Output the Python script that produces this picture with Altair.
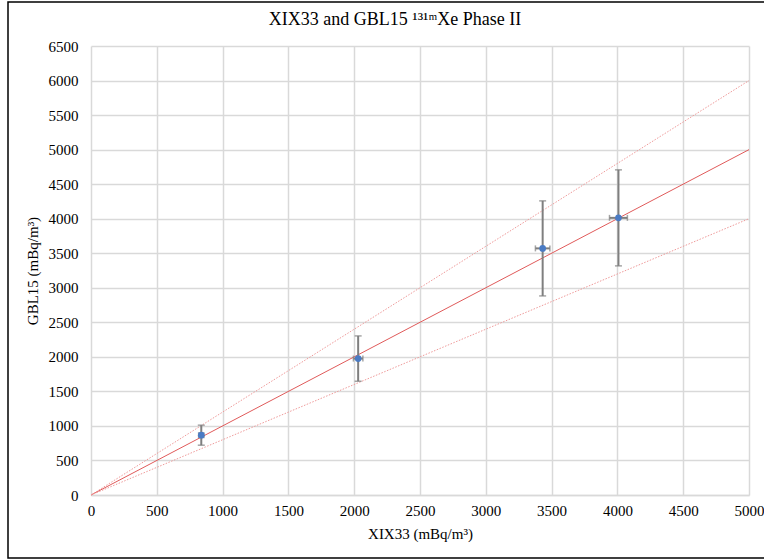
import altair as alt
import pandas as pd

# Measured concentrations (mBq/m3) with their uncertainties
xix33 = [838, 2030, 3432, 4008]
gbl15 = [866, 1975, 3570, 4012]
gbl15_err = [145, 328, 688, 695]
xix33_err = [20, 36, 55, 68]

# Reference lines: 1:1 and +/-20 %
ref_x = [0, 5000]
ref_slopes = [1.0, 1.2, 0.8]
ref_names = ["1:1", "+20%", "-20%"]

x_ticks = list(range(0, 5001, 500))
y_ticks = list(range(0, 6501, 500))

W, H = 658, 449
FONT = "Liberation Serif"

pts = pd.DataFrame({
    "x": xix33, "y": gbl15,
    "ylo": [y - e for y, e in zip(gbl15, gbl15_err)],
    "yhi": [y + e for y, e in zip(gbl15, gbl15_err)],
    "xlo": [x - e for x, e in zip(xix33, xix33_err)],
    "xhi": [x + e for x, e in zip(xix33, xix33_err)],
})

lines = pd.DataFrame(
    [{"x": x, "y": s * x, "k": n} for s, n in zip(ref_slopes, ref_names) for x in ref_x]
)

xs = alt.Scale(domain=[0, 5000], nice=False, zero=True)
ys = alt.Scale(domain=[0, 6500], nice=False, zero=True)

x_axis = alt.Axis(values=x_ticks, tickCount=len(x_ticks), title="XIX33 (mBq/m³)",
                  titlePadding=8, format="d", labelOverlap=False, labelFlush=False,
                  labelPadding=8)
y_axis = alt.Axis(values=y_ticks, tickCount=len(y_ticks), title="GBL15 (mBq/m³)",
                  titlePadding=8, format="d", labelOverlap=False, labelFlush=False,
                  labelPadding=13)


def X(field):
    return alt.X(field, type="quantitative", scale=xs, axis=x_axis)


def Y(field):
    return alt.Y(field, type="quantitative", scale=ys, axis=y_axis)


base_l = alt.Chart(lines)
solid = base_l.transform_filter("datum.k == '1:1'").mark_line(
    color="#e05a5a", strokeWidth=1
).encode(x=X("x"), y=Y("y"))
dotted = base_l.transform_filter("datum.k != '1:1'").mark_line(
    color="#ef9a9a", strokeWidth=1, strokeDash=[1.5, 1.5]
).encode(x=X("x"), y=Y("y"), detail="k:N")

base_p = alt.Chart(pts)
err_color = "#7f7f7f"
vbar = base_p.mark_rule(color=err_color, strokeWidth=2).encode(
    x=X("x"), y=Y("ylo"), y2="yhi:Q"
)
hbar = base_p.mark_rule(color=err_color, strokeWidth=2).encode(
    x=X("xlo"), x2="xhi:Q", y=Y("y")
)
vcap_hi = base_p.mark_tick(color=err_color, orient="horizontal", size=7, thickness=1.5).encode(
    x=X("x"), y=Y("yhi")
)
vcap_lo = base_p.mark_tick(color=err_color, orient="horizontal", size=7, thickness=1.5).encode(
    x=X("x"), y=Y("ylo")
)
hcap_lo = base_p.mark_tick(color=err_color, orient="vertical", size=6, thickness=1.5).encode(
    x=X("xlo"), y=Y("y")
)
hcap_hi = base_p.mark_tick(color=err_color, orient="vertical", size=6, thickness=1.5).encode(
    x=X("xhi"), y=Y("y")
)
dots = base_p.mark_circle(color="#4a7bc4", size=45, opacity=1).encode(
    x=X("x"), y=Y("y")
)

# Chart title, drawn as text above the plot
title = alt.Chart(pd.DataFrame({"t": ["XIX33 and GBL15 ¹³¹ᵐXe Phase II"]})).mark_text(
    font=FONT, fontSize=18, color="#000000", baseline="middle", align="center"
).encode(x=alt.value(304), y=alt.value(-26), text="t:N")

# Frame around the whole figure
frame = alt.Chart(pd.DataFrame({"a": [0]})).mark_rect(
    fill=None, stroke="#000000", strokeWidth=1.5
).encode(
    x=alt.value(-83), x2=alt.value(W + 30), y=alt.value(-44), y2=alt.value(H + 63)
)

chart = alt.layer(
    solid, dotted, vbar, hbar, vcap_hi, vcap_lo, hcap_lo, hcap_hi, dots, title, frame
).properties(
    width=W, height=H,
    autosize=alt.AutoSizeParams(type="none"),
    padding={"left": 91, "top": 46, "right": 15, "bottom": 65},
).configure_view(
    stroke=None
).configure_axis(
    labelFont=FONT, titleFont=FONT, labelFontSize=15, titleFontSize=15,
    titleFontWeight="normal", labelColor="#000000", titleColor="#000000",
    gridColor="#d9d9d9", gridWidth=1.5, domainColor="#d9d9d9", domainWidth=1.5,
    ticks=False,
).configure_axisY(
    domain=False
).configure_axisX(
    domain=True
)

chart.save("out.html", embed_options={"renderer": "svg", "actions": False})
